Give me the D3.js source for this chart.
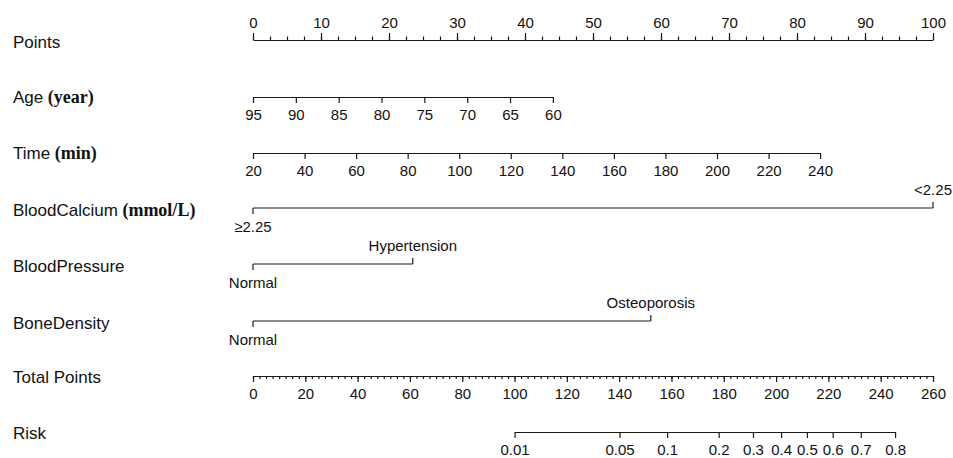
<!DOCTYPE html>
<html>
<head>
<meta charset="utf-8">
<script src="https://cdn.jsdelivr.net/npm/d3@7"></script>
<style>
  body { margin: 0; background: #fff; }
  text { font-family: "Liberation Sans", Arial, sans-serif; fill: #111; }
  .unit { font-family: "Liberation Serif", "Times New Roman", serif; font-weight: bold; font-size: 18px; }
  .axis path, .axis line { stroke: #1a1a1a; stroke-width: 1.2; }
</style>
</head>
<body>
<div id="chart"></div>
<script>
// points scale
var pointTicks = d3.range(0, 101, 10);
var pointMinor = d3.range(0, 100.1, 2.5);

// Age (year): value -> points
var ageTicks = [95, 90, 85, 80, 75, 70, 65, 60];
var ageRange = [95, 60];
var agePoints = [0, 44.1];

// Time (min)
var timeTicks = [20, 40, 60, 80, 100, 120, 140, 160, 180, 200, 220, 240];
var timeRange = [20, 240];
var timePoints = [0, 83.4];

// categorical predictors
var calciumLevels = ["\u22652.25", "<2.25"];
var calciumPoints = [0, 100];
var pressureLevels = ["Normal", "Hypertension"];
var pressurePoints = [0, 23.5];
var boneLevels = ["Normal", "Osteoporosis"];
var bonePoints = [0, 58.5];

// total points
var totalTicks = d3.range(0, 261, 20);
var totalMinor = d3.range(0, 260.1, 2.5);

// risk: total points where risk = 0.01 and 0.8
var riskTicks = [0.01, 0.05, 0.1, 0.2, 0.3, 0.4, 0.5, 0.6, 0.7, 0.8];
var riskAnchor = [0.01, 0.8];
var riskAnchorTotal = [100, 245.5];

(function () {
  var w = 953,
      h = 458;

  var svg = d3.select("#chart")
      .append("svg")
      .attr("width", w)
      .attr("height", h);

  var x0 = 253, x1 = 933;
  var pointsX = d3.scaleLinear().domain([0, 100]).range([x0, x1]);
  var totalX = d3.scaleLinear().domain([0, 260]).range([x0, x1]);
  var logit = function(p) { return Math.log(p / (1 - p)); };
  var riskToTotal = d3.scaleLinear()
      .domain(riskAnchor.map(logit))
      .range(riskAnchorTotal);

  var labelSize = "17px", tickSize = "15px";

  function rowLabel(y, name, unit) {
    var t = svg.append("text")
        .attr("x", 13)
        .attr("y", y + 6)
        .attr("font-size", labelSize)
        .text(name);
    if (unit) {
      t.append("tspan").attr("class", "unit").text(" " + unit);
    }
  }

  function styleAxis(g) {
    g.attr("class", "axis");
    g.selectAll(".tick text")
        .attr("font-size", tickSize)
        .attr("font-family", "Liberation Sans, Arial, sans-serif")
        .attr("fill", "#111");
  }

  // Points
  var yPts = 40;
  svg.append("g")
      .attr("transform", "translate(0," + yPts + ")")
      .call(d3.axisTop(pointsX).tickValues(pointMinor).tickSize(3.5).tickSizeOuter(0).tickFormat(""))
      .call(styleAxis);
  svg.append("g")
      .attr("transform", "translate(0," + yPts + ")")
      .call(d3.axisTop(pointsX).tickValues(pointTicks).tickSize(7).tickSizeOuter(0).tickPadding(5).tickFormat(d3.format("d")))
      .call(styleAxis)
      .select(".domain").remove();
  rowLabel(yPts + 2, "Points");

  // continuous predictor rows
  function contRow(y, name, unit, ticks, range, pts) {
    var sc = d3.scaleLinear().domain(range).range([pointsX(pts[0]), pointsX(pts[1])]);
    svg.append("g")
        .attr("transform", "translate(0," + y + ")")
        .call(d3.axisBottom(sc).tickValues(ticks).tickSize(6).tickSizeOuter(0).tickPadding(6).tickFormat(d3.format("d")))
        .call(styleAxis);
    rowLabel(y, name, unit);
  }
  contRow(97, "Age", "(year)", ageTicks, ageRange, agePoints);
  contRow(153, "Time", "(min)", timeTicks, timeRange, timePoints);

  // categorical predictor rows
  function catRow(y, name, unit, levels, pts) {
    var g = svg.append("g").attr("class", "axis");
    var xs = pts.map(pointsX);
    g.append("line")
        .attr("x1", d3.min(xs)).attr("x2", d3.max(xs))
        .attr("y1", y).attr("y2", y);
    levels.forEach(function(lv, i) {
      var up = i % 2 === 1;
      g.append("line")
          .attr("x1", xs[i]).attr("x2", xs[i])
          .attr("y1", y).attr("y2", up ? y - 6 : y + 6);
      svg.append("text")
          .attr("x", xs[i])
          .attr("y", up ? y - 13 : y + 24)
          .attr("text-anchor", "middle")
          .attr("font-size", tickSize)
          .text(lv);
    });
    rowLabel(y + 2, name, unit);
  }
  catRow(208, "BloodCalcium", "(mmol/L)", calciumLevels, calciumPoints);
  catRow(264, "BloodPressure", null, pressureLevels, pressurePoints);
  catRow(321, "BoneDensity", null, boneLevels, bonePoints);

  // Total Points
  var yTot = 376;
  svg.append("g")
      .attr("transform", "translate(0," + yTot + ")")
      .call(d3.axisBottom(totalX).tickValues(totalMinor).tickSize(3).tickSizeOuter(0).tickFormat(""))
      .call(styleAxis);
  svg.append("g")
      .attr("transform", "translate(0," + yTot + ")")
      .call(d3.axisBottom(totalX).tickValues(totalTicks).tickSize(6).tickSizeOuter(0).tickPadding(6).tickFormat(d3.format("d")))
      .call(styleAxis)
      .select(".domain").remove();
  rowLabel(yTot + 1, "Total Points");

  // Risk
  var yRisk = 432;
  var riskX = function(r) { return totalX(riskToTotal(logit(r))); };
  var riskScale = d3.scaleLinear()
      .domain(riskAnchor.map(logit))
      .range(riskAnchor.map(riskX));
  svg.append("g")
      .attr("transform", "translate(0," + yRisk + ")")
      .call(d3.axisBottom(riskScale)
        .tickValues(riskTicks.map(logit))
        .tickSize(6).tickSizeOuter(0).tickPadding(6)
        .tickFormat(function(d, i) { return String(riskTicks[i]); }))
      .call(styleAxis);
  rowLabel(yRisk + 1, "Risk");
})();
</script>
</body>
</html>
